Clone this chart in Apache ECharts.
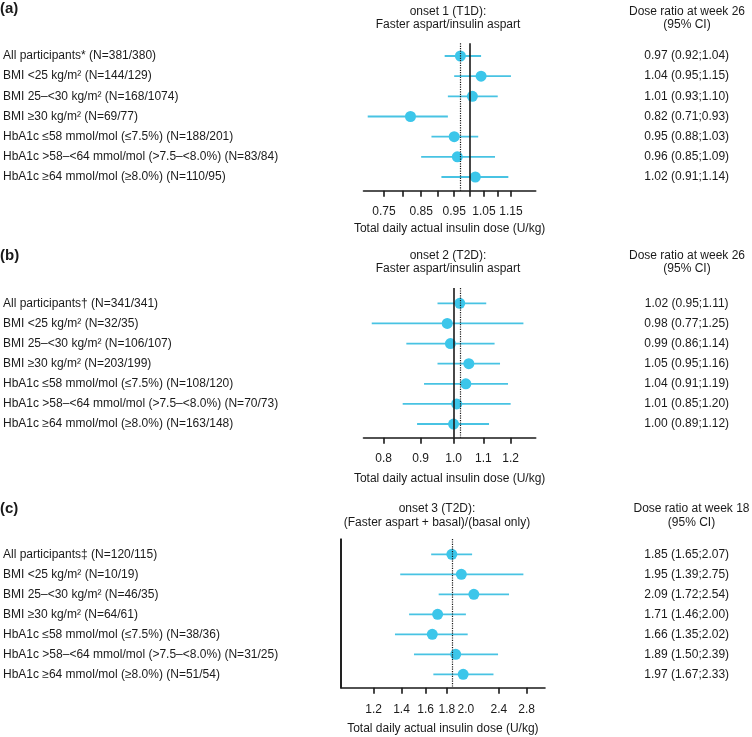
<!DOCTYPE html>
<html><head><meta charset="utf-8">
<script src="https://cdn.jsdelivr.net/npm/echarts@6/dist/echarts.min.js"></script>
<style>html,body{margin:0;padding:0;background:#fff}#c{width:752px;height:737px}</style>
</head><body><div id="c"></div>
<script>
// ---------- data ----------
const panelLetters = ['(a)', '(b)', '(c)'];
const panelTitles = [
  ['onset 1 (T1D):', 'Faster aspart/insulin aspart'],
  ['onset 2 (T2D):', 'Faster aspart/insulin aspart'],
  ['onset 3 (T2D):', '(Faster aspart + basal)/(basal only)']
];
const ratioHeaders = [
  ['Dose ratio at week 26', '(95% CI)'],
  ['Dose ratio at week 26', '(95% CI)'],
  ['Dose ratio at week 18', '(95% CI)']
];
const axisTitle = 'Total daily actual insulin dose (U/kg)';

const rowLabelsA = [
  'All participants* (N=381/380)',
  'BMI <25 kg/m² (N=144/129)',
  'BMI 25–<30 kg/m² (N=168/1074)',
  'BMI ≥30 kg/m² (N=69/77)',
  'HbA1c ≤58 mmol/mol (≤7.5%) (N=188/201)',
  'HbA1c >58–<64 mmol/mol (>7.5–<8.0%) (N=83/84)',
  'HbA1c ≥64 mmol/mol (≥8.0%) (N=110/95)'
];
const estA = [0.97, 1.04, 1.01, 0.82, 0.95, 0.96, 1.02];
const loA  = [0.92, 0.95, 0.93, 0.71, 0.88, 0.85, 0.91];
const hiA  = [1.04, 1.15, 1.10, 0.93, 1.03, 1.09, 1.14];
const ticksA = [0.75, 0.80, 0.85, 0.90, 0.95, 1.00, 1.05, 1.10, 1.15];
const tickLabelsA = [0.75, 0.85, 0.95, 1.05, 1.15];

const rowLabelsB = [
  'All participants† (N=341/341)',
  'BMI <25 kg/m² (N=32/35)',
  'BMI 25–<30 kg/m² (N=106/107)',
  'BMI ≥30 kg/m² (N=203/199)',
  'HbA1c ≤58 mmol/mol (≤7.5%) (N=108/120)',
  'HbA1c >58–<64 mmol/mol (>7.5–<8.0%) (N=70/73)',
  'HbA1c ≥64 mmol/mol (≥8.0%) (N=163/148)'
];
const estB = [1.02, 0.98, 0.99, 1.05, 1.04, 1.01, 1.00];
const loB  = [0.95, 0.77, 0.86, 0.95, 0.91, 0.85, 0.89];
const hiB  = [1.11, 1.25, 1.14, 1.16, 1.19, 1.20, 1.12];
const ticksB = [0.8, 0.9, 1.0, 1.1, 1.2];
const tickLabelsB = [0.8, 0.9, 1.0, 1.1, 1.2];

const rowLabelsC = [
  'All participants‡ (N=120/115)',
  'BMI <25 kg/m² (N=10/19)',
  'BMI 25–<30 kg/m² (N=46/35)',
  'BMI ≥30 kg/m² (N=64/61)',
  'HbA1c ≤58 mmol/mol (≤7.5%) (N=38/36)',
  'HbA1c >58–<64 mmol/mol (>7.5–<8.0%) (N=31/25)',
  'HbA1c ≥64 mmol/mol (≥8.0%) (N=51/54)'
];
const estC = [1.85, 1.95, 2.09, 1.71, 1.66, 1.89, 1.97];
const loC  = [1.65, 1.39, 1.72, 1.46, 1.35, 1.50, 1.67];
const hiC  = [2.07, 2.75, 2.54, 2.00, 2.02, 2.39, 2.33];
const ticksC = [1.2, 1.4, 1.6, 1.8, 2.4, 2.8];
const tickLabelsC = [1.2, 1.4, 1.6, 1.8, 2.0, 2.4, 2.8];

// ---------- styling / layout ----------
const FONT = '"Liberation Sans", Arial, Helvetica, sans-serif';
const INK = '#1a1a1a';
const DOT = '#3cc6ea';
const BAR = '#48c3e3';

const panels = [
  { labels: rowLabelsA, est: estA, lo: loA, hi: hiA, ticks: ticksA, tickLabels: tickLabelsA, dec: 2,
    grid: { left: 361, right: 216.3, top: 43.3, height: 147.4 }, xMin: 0.70, xMax: 1.25,
    yMin: -0.63, yMax: 6.68, nameGap: 31.5, labelMargin: 14.5, rightMargin: 151, yLine: false,
    titleX: 448, titleY: [12, 25], headX: 687, headY: [12, 25], letterY: 8.5 },
  { labels: rowLabelsB, est: estB, lo: loB, hi: hiB, ticks: ticksB, tickLabels: tickLabelsB, dec: 1,
    grid: { left: 361, right: 216.3, top: 288, height: 149.7 }, xMin: 0.75, xMax: 1.30,
    yMin: -0.76, yMax: 6.68, nameGap: 35, labelMargin: 15, rightMargin: 151, yLine: false,
    titleX: 448, titleY: [255.7, 268.5], headX: 687, headY: [255.7, 268.3], letterY: 255.8 },
  { labels: rowLabelsC, est: estC, lo: loC, hi: hiC, ticks: ticksC, tickLabels: tickLabelsC, dec: 1,
    grid: { left: 338.3, right: 207, top: 539, height: 148.7 }, xMin: 1.0, xMax: 3.1,
    yMin: -0.765, yMax: 6.67, nameGap: 34.5, labelMargin: 15.5, rightMargin: 141.7, yLine: true,
    titleX: 437, titleY: [508.3, 522.7], headX: 691.5, headY: [508.3, 522.7], letterY: 509 }
];

const txt = { fontFamily: FONT, fontSize: 12, color: INK };
const rowIdx = [0, 1, 2, 3, 4, 5, 6];

const option = {
  animation: false,
  backgroundColor: '#fff',
  grid: panels.map(p => Object.assign({ containLabel: false }, p.grid)),
  xAxis: panels.map((p, i) => ({
    gridIndex: i, type: 'log', logBase: 10, min: p.xMin, max: p.xMax,
    axisLine: { show: true, onZero: false, lineStyle: { color: INK, width: 1.6 } },
    axisTick: { show: true, customValues: p.ticks, length: 6, lineStyle: { color: INK, width: 1.6 } },
    axisLabel: Object.assign({ customValues: p.tickLabels, margin: p.labelMargin,
      formatter: v => Number(v).toFixed(p.dec) }, txt),
    minorTick: { show: false }, splitLine: { show: false }, minorSplitLine: { show: false },
    name: axisTitle, nameLocation: 'middle', nameGap: p.nameGap, nameTextStyle: txt
  })),
  yAxis: [],
  series: [],
  graphic: []
};

panels.forEach((p, i) => {
  option.yAxis.push({
    gridIndex: i, type: 'value', inverse: true, min: p.yMin, max: p.yMax, position: 'left',
    axisLine: { show: p.yLine, onZero: false, lineStyle: { color: INK, width: 1.6 } },
    axisTick: { show: false }, splitLine: { show: false },
    axisLabel: Object.assign({ customValues: rowIdx, align: 'left', margin: p.grid.left - 0.5,
      padding: [3, 0, 0, 0], formatter: v => p.labels[Math.round(v)] }, txt)
  });
  option.yAxis.push({
    gridIndex: i, type: 'value', inverse: true, min: p.yMin, max: p.yMax, position: 'right',
    axisLine: { show: false, onZero: false }, axisTick: { show: false }, splitLine: { show: false },
    axisLabel: Object.assign({ customValues: rowIdx, align: 'center', margin: p.rightMargin,
      padding: [3, 0, 0, 0],
      formatter: v => { const k = Math.round(v);
        return p.est[k].toFixed(2) + ' (' + p.lo[k].toFixed(2) + ';' + p.hi[k].toFixed(2) + ')'; } }, txt)
  });
  option.series.push({
    type: 'custom', xAxisIndex: i, yAxisIndex: 2 * i, silent: true, z: 2,
    data: p.lo.map((l, k) => [k, l, p.hi[k]]),
    encode: { x: [1, 2], y: 0 },
    renderItem: (params, api) => {
      const a = api.coord([api.value(1), api.value(0)]);
      const b = api.coord([api.value(2), api.value(0)]);
      return { type: 'line', shape: { x1: a[0], y1: a[1], x2: b[0], y2: b[1] },
        style: { stroke: BAR, lineWidth: 1.8 } };
    }
  });
  option.series.push({
    type: 'scatter', xAxisIndex: i, yAxisIndex: 2 * i, z: 4, symbolSize: 11,
    itemStyle: { color: DOT, opacity: 1 },
    data: p.est.map((e, k) => [e, k]),
    markLine: {
      silent: true, symbol: 'none', label: { show: false }, animation: false,
      data: [
        { xAxis: 1, lineStyle: { type: 'solid', width: 1.6, color: INK } },
        { xAxis: p.est[0], lineStyle: { type: 'dotted', width: 1.2, color: INK } }
      ]
    }
  });
  option.graphic.push({ type: 'text', x: 0, y: p.letterY,
    style: { text: panelLetters[i], fill: INK, font: 'bold 15px ' + FONT, align: 'left', verticalAlign: 'middle' } });
  panelTitles[i].forEach((t, j) => option.graphic.push({ type: 'text', x: p.titleX, y: p.titleY[j],
    style: { text: t, fill: INK, font: '12px ' + FONT, align: 'center', verticalAlign: 'middle' } }));
  ratioHeaders[i].forEach((t, j) => option.graphic.push({ type: 'text', x: p.headX, y: p.headY[j],
    style: { text: t, fill: INK, font: '12px ' + FONT, align: 'center', verticalAlign: 'middle' } }));
});

const chart = echarts.init(document.getElementById('c'), null, { renderer: 'canvas' });
chart.setOption(option);
</script></body></html>
